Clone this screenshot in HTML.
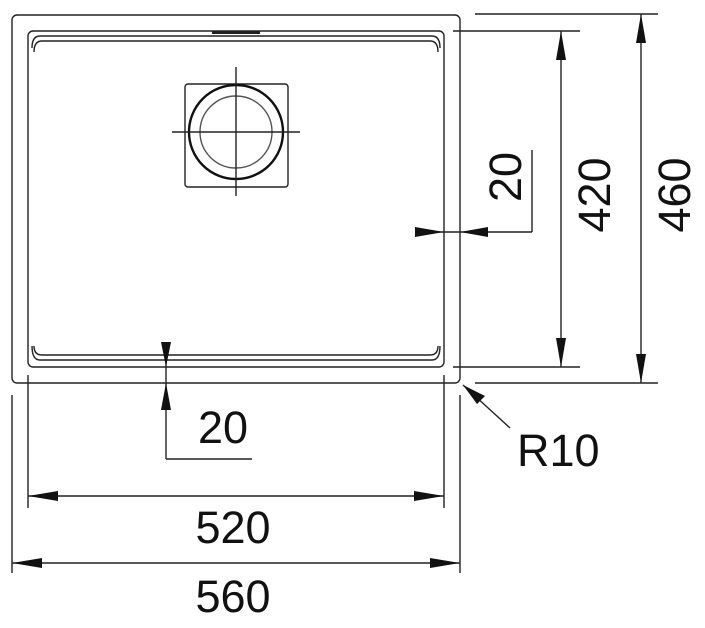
<!DOCTYPE html>
<html><head><style>
html,body{margin:0;padding:0;background:#fff;}
svg{display:block;}
text{font-family:"Liberation Sans",sans-serif;fill:#111;}
</style></head><body>
<svg width="705" height="628" viewBox="0 0 705 628" xmlns="http://www.w3.org/2000/svg">
<g fill="none" stroke="#222" stroke-width="1.4">
<rect x="12" y="15" width="448" height="368" rx="5"/>
<rect x="28" y="31" width="416" height="336" rx="5"/>
<path d="M32 48 Q32 36 40 36 L432 36 Q440 36 440 48"/>
<path d="M34 52 Q34 41 42 41 L430 41 Q438 41 438 52"/>
<path d="M32 346 Q32 360 40 360 L432 360 Q440 360 440 346"/>
<path d="M34 346 Q34 355 42 355 L430 355 Q438 355 438 346"/>
<rect x="185" y="84" width="103" height="103" rx="3"/>
<circle cx="236" cy="132" r="47" stroke-width="2.4" stroke="#111"/>
<circle cx="236" cy="132" r="36" stroke="#555"/>
<line x1="172" y1="132" x2="300" y2="132"/>
<line x1="236" y1="67" x2="236" y2="196"/>
<line x1="453" y1="31" x2="580" y2="31"/>
<line x1="453" y1="367" x2="580" y2="367"/>
<line x1="475" y1="14" x2="658" y2="14"/>
<line x1="475" y1="383" x2="658" y2="383"/>
<line x1="561" y1="31" x2="561" y2="367"/>
<line x1="641" y1="14" x2="641" y2="383"/>
<line x1="532" y1="150" x2="532" y2="232"/>
<line x1="415" y1="232" x2="532" y2="232"/>
<line x1="28" y1="375" x2="28" y2="508"/>
<line x1="444" y1="375" x2="444" y2="508"/>
<line x1="12" y1="395" x2="12" y2="573"/>
<line x1="460" y1="395" x2="460" y2="573"/>
<line x1="28" y1="496" x2="444" y2="496"/>
<line x1="12" y1="563" x2="460" y2="563"/>
<line x1="166" y1="342" x2="166" y2="459"/>
<line x1="166" y1="459" x2="252" y2="459"/>
<line x1="463" y1="385" x2="510" y2="428"/>
</g>
<rect x="212" y="31" width="48" height="3" fill="#222"/>
<g fill="#111">
<polygon points="561,31 556,60 566,60"/>
<polygon points="561,367 556,338 566,338"/>
<polygon points="641,14 636,43 646,43"/>
<polygon points="641,383 636,354 646,354"/>
<polygon points="444,232 415,227 415,237"/>
<polygon points="460,232 488,227 488,237"/>
<polygon points="166,367 161,342 171,342"/>
<polygon points="166,383 161,410 171,410"/>
<polygon points="28,496 58,491 58,501"/>
<polygon points="444,496 414,491 414,501"/>
<polygon points="12,563 42,558 42,568"/>
<polygon points="460,563 430,558 430,568"/>
<polygon points="463,385 485,396 477,404"/>
</g>
<text x="233" y="543" font-size="45" text-anchor="middle">520</text>
<text x="233" y="612" font-size="45" text-anchor="middle">560</text>
<text x="223" y="443" font-size="45" text-anchor="middle">20</text>
<text x="517" y="466" font-size="45">R10</text>
<text transform="translate(521,177) rotate(-90)" font-size="45" text-anchor="middle">20</text>
<text transform="translate(610,195) rotate(-90)" font-size="45" text-anchor="middle">420</text>
<text transform="translate(690,195) rotate(-90)" font-size="45" text-anchor="middle">460</text>
</svg>
</body></html>
